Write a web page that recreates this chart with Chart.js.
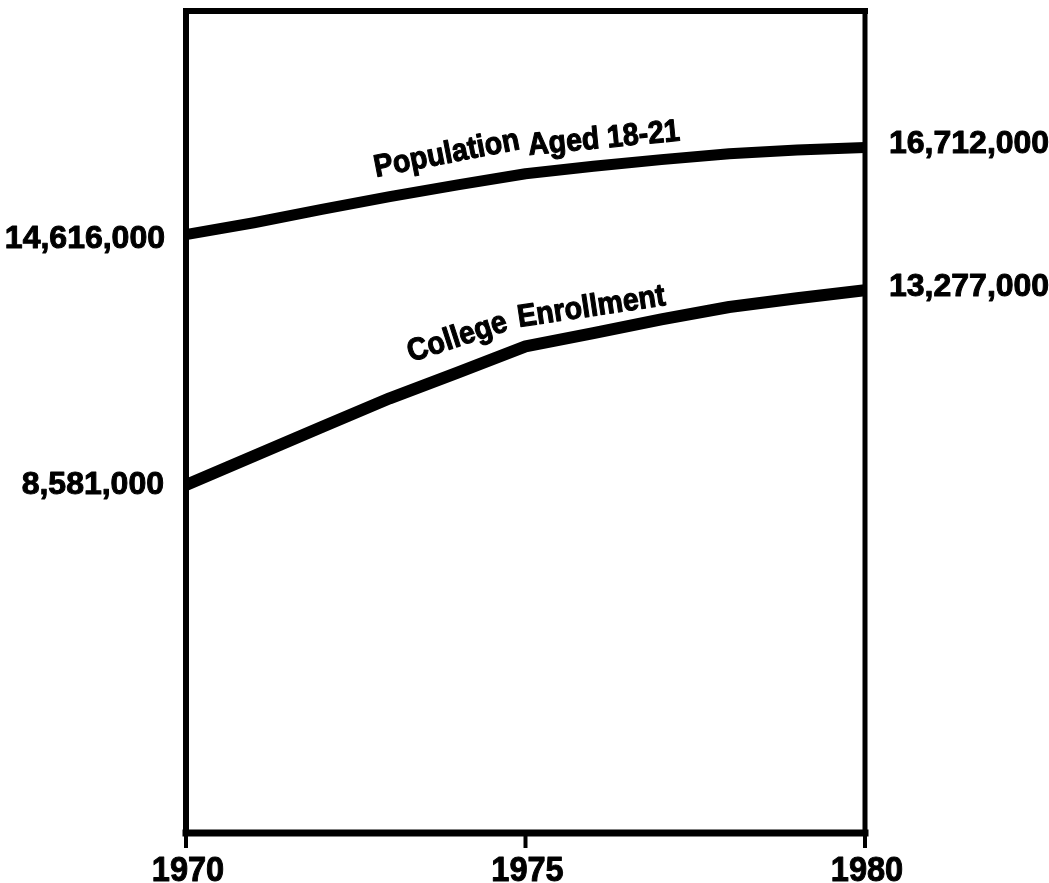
<!DOCTYPE html>
<html>
<head>
<meta charset="utf-8">
<title>Population Aged 18-21 and College Enrollment</title>
<script src="https://cdn.jsdelivr.net/npm/chart.js@4/dist/chart.umd.min.js"></script>
<style>
    body { margin: 0; background: #fff; }
    #box { width: 1049px; height: 883px; }
</style>
</head>
<body>
<div id="box"><canvas id="lineCanvas" width="1049" height="883"></canvas></div>
<script>
// données
const years = [1970, 1971, 1972, 1973, 1974, 1975, 1976, 1977, 1978, 1979, 1980];
const population = [14616000, 14900000, 15220000, 15530000, 15810000, 16080000, 16260000, 16420000, 16560000, 16650000, 16712000];
const enrollment = [8581000, 9280000, 9980000, 10670000, 11290000, 11920000, 12240000, 12570000, 12870000, 13080000, 13277000];
const tickYears = [1970, 1975, 1980];
const popLabels = ["14,616,000", "16,712,000"];
const enrLabels = ["8,581,000", "13,277,000"];

const FONT = '"Liberation Sans", Arial, Helvetica, sans-serif';

// texte un peu plus gras, comme l'impression d'origine
function boldText(ctx, txt, x, y) {
    ctx.fillText(txt, x, y);
    ctx.strokeText(txt, x, y);
}

// cadre, graduations et textes
const decor = {
    id: "decor",
    afterDatasetsDraw(chart) {
        const ctx = chart.ctx;
        const a = chart.chartArea;
        const x = chart.scales.x;
        const y = chart.scales.y;
        ctx.save();
        ctx.strokeStyle = "#000";
        ctx.lineCap = "square";

        ctx.lineWidth = 6;
        ctx.beginPath(); ctx.moveTo(a.left, a.top); ctx.lineTo(a.left, a.bottom); ctx.stroke();
        ctx.beginPath(); ctx.moveTo(a.left, a.top); ctx.lineTo(a.right, a.top); ctx.stroke();
        ctx.lineWidth = 5;
        ctx.beginPath(); ctx.moveTo(a.right, a.top); ctx.lineTo(a.right, a.bottom); ctx.stroke();
        ctx.lineWidth = 7;
        ctx.beginPath(); ctx.moveTo(a.left, a.bottom); ctx.lineTo(a.right, a.bottom); ctx.stroke();

        ctx.lineWidth = 4;
        ctx.lineCap = "butt";
        tickYears.forEach(yr => {
            const px = x.getPixelForValue(yr);
            ctx.beginPath(); ctx.moveTo(px, a.bottom); ctx.lineTo(px, a.bottom + 15); ctx.stroke();
        });

        ctx.fillStyle = "#000";
        ctx.lineWidth = 1;
        ctx.lineJoin = "round";

        // années, police un peu étroite
        ctx.font = "bold 35px " + FONT;
        ctx.textAlign = "center";
        ctx.textBaseline = "alphabetic";
        tickYears.forEach(yr => {
            ctx.save();
            ctx.translate(x.getPixelForValue(yr) + 2, 881);
            ctx.scale(0.93, 1);
            boldText(ctx, String(yr), 0, 0);
            ctx.restore();
        });

        ctx.font = "bold 32px " + FONT;
        ctx.textBaseline = "middle";
        ctx.textAlign = "right";
        boldText(ctx, popLabels[0], a.left - 21, y.getPixelForValue(population[0]) + 5);
        boldText(ctx, enrLabels[0], a.left - 22, y.getPixelForValue(enrollment[0]));
        ctx.textAlign = "left";
        const last = years.length - 1;
        boldText(ctx, popLabels[1], a.right + 24, y.getPixelForValue(population[last]) - 3);
        boldText(ctx, enrLabels[1], a.right + 24, y.getPixelForValue(enrollment[last]) - 3);

        // noms des courbes, un mot par segment (un peu étirés en hauteur)
        ctx.font = "bold 28px " + FONT;
        ctx.textBaseline = "alphabetic";
        const words = [
            ["Population", 376, 177, -11],
            ["Aged 18-21", 529, 155, -5.5],
            ["College", 411, 362, -18],
            ["Enrollment", 519, 327, -8.5]
        ];
        words.forEach(w => {
            ctx.save();
            ctx.translate(w[1], w[2]);
            ctx.rotate(w[3] * Math.PI / 180);
            ctx.scale(1.02, 1.12);
            boldText(ctx, w[0], 0, 0);
            ctx.restore();
        });
        ctx.restore();
    }
};

document.addEventListener("DOMContentLoaded", () => {
    const ctx = document.getElementById("lineCanvas").getContext("2d");
    new Chart(ctx, {
        type: "line",
        data: {
            labels: years,
            datasets: [{
                label: "Population Aged 18-21",
                data: years.map((yr, i) => ({ x: yr, y: population[i] })),
                borderColor: "#000",
                borderWidth: 11,
                pointRadius: 0,
                tension: 0,
                borderJoinStyle: "round"
            }, {
                label: "College Enrollment",
                data: years.map((yr, i) => ({ x: yr, y: enrollment[i] })),
                borderColor: "#000",
                borderWidth: 12,
                pointRadius: 0,
                tension: 0,
                borderJoinStyle: "round"
            }]
        },
        options: {
            responsive: false,
            animation: false,
            devicePixelRatio: 1,
            layout: { padding: { left: 186, right: 1049 - 865, top: 11, bottom: 883 - 833 } },
            plugins: {
                legend: { display: false },
                tooltip: { enabled: false }
            },
            scales: {
                x: { type: "linear", min: 1970, max: 1980, display: false },
                y: { min: 200000, max: 20000000, display: false }
            }
        },
        plugins: [decor]
    });
});
</script>
</body>
</html>
